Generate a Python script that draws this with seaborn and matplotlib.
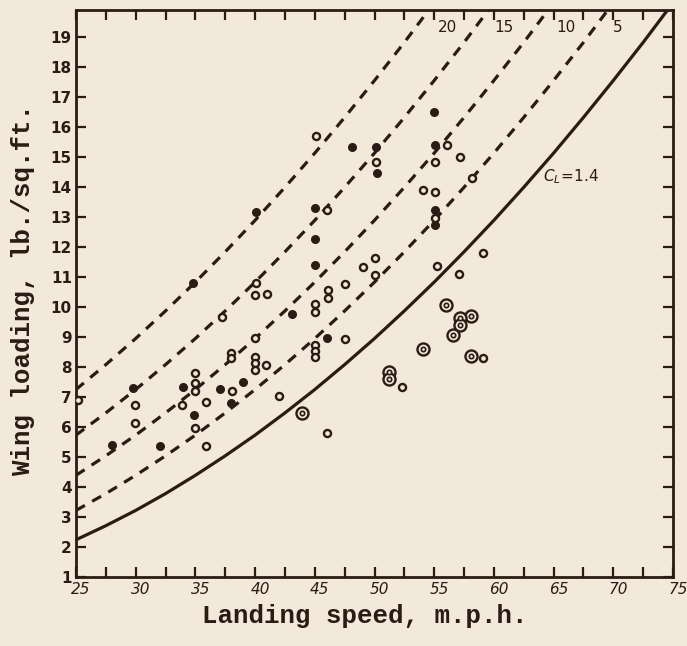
import numpy as np
import pandas as pd
import matplotlib
matplotlib.use("Agg")
import matplotlib.pyplot as plt
import matplotlib.transforms as mtransforms
import seaborn as sns

# ---------------- data ----------------
speed_grid = [25, 27.5, 30, 32.5, 35, 37.5, 40, 42.5, 45, 47.5, 50, 52.5,
              55, 57.5, 60, 62.5, 65, 67.5, 70, 72.5, 75]
# solid curve C_L = 1.4
cl14_vals = [2.24, 2.71, 3.22, 3.78, 4.39, 5.04, 5.73, 6.47, 7.25, 8.08, 8.95,
             9.87, 10.83, 11.84, 12.89, 13.99, 15.13, 16.32, 17.55, 18.82, 20.14]
# dashed curves labelled 5, 10, 15, 20
dash5_vals = [3.22, 3.78, 4.39, 5.04, 5.73, 6.47, 7.25, 8.08, 8.95, 9.87,
              10.83, 11.84, 12.89, 13.99, 15.13, 16.32, 17.55, 18.82, 20.14]
dash10_vals = [4.39, 5.04, 5.73, 6.47, 7.25, 8.08, 8.95, 9.87, 10.83, 11.84,
               12.89, 13.99, 15.13, 16.32, 17.55, 18.82, 20.14]
dash15_vals = [5.73, 6.47, 7.25, 8.08, 8.95, 9.87, 10.83, 11.84, 12.89, 13.99,
               15.13, 16.32, 17.55, 18.82, 20.14]
dash20_vals = [7.25, 8.08, 8.95, 9.87, 10.83, 11.84, 12.89, 13.99, 15.13,
               16.32, 17.55, 18.82, 20.14]
curve_labels = ["20", "15", "10", "5"]
curve_label_x = [55.3, 60.0, 65.2, 70.0]

# scatter points: filled dots
filled_speed = [28.0, 29.8, 32.0, 34.0, 34.9, 37.1, 39.0, 38.0, 34.8, 40.1,
                43.1, 45.0, 45.0, 45.0, 46.0, 48.1, 50.1, 50.2, 55.0, 55.1,
                55.1, 55.1]
filled_load = [5.40, 7.31, 5.38, 7.34, 6.40, 7.27, 7.51, 6.79, 10.79, 13.18,
               9.78, 13.29, 12.26, 11.40, 8.96, 15.34, 15.34, 14.48, 16.51,
               15.40, 13.23, 12.73]
# open circles
open_speed = [25.2, 29.9, 29.9, 35.0, 35.0, 35.0, 33.85, 35.9, 35.0, 35.9,
              38.1, 38.0, 38.0, 40.0, 40.0, 40.0, 40.0, 40.9, 42.0, 46.0,
              45.0, 45.0, 45.0, 47.5, 40.1, 40.0, 41.0, 37.25, 46.0, 47.5,
              46.1, 46.1, 45.0, 45.0, 45.1, 50.1, 50.0, 49.0, 50.0, 56.1,
              57.2, 55.1, 58.2, 54.1, 55.1, 55.1, 59.1, 55.2, 57.1, 59.1,
              52.3]
open_load = [6.90, 6.73, 6.14, 7.79, 7.46, 7.21, 6.73, 6.84, 5.96, 5.38,
             7.21, 8.46, 8.30, 8.98, 8.34, 8.13, 7.90, 8.07, 7.03, 5.79,
             8.73, 8.53, 8.34, 8.93, 10.79, 10.40, 10.43, 9.68, 13.23, 10.75,
             10.57, 10.29, 10.10, 9.85, 15.71, 14.84, 11.62, 11.32, 11.07,
             15.40, 14.99, 14.84, 14.29, 13.90, 13.84, 12.98, 11.81, 11.38,
             11.09, 8.31, 7.32]
# circled points
ring_speed = [43.9, 56.0, 58.1, 57.2, 57.2, 56.6, 54.1, 58.1, 51.2, 51.2]
ring_load = [6.46, 10.07, 9.70, 9.62, 9.40, 9.07, 8.59, 8.37, 7.84, 7.59]

x_ticks = [25, 30, 35, 40, 45, 50, 55, 60, 65, 70, 75]
y_ticks = list(range(1, 20))

# ---------------- style ----------------
BG = "#f3e9da"
INK = "#2a1c14"

sns.set_theme(style="ticks")
plt.rcParams["font.family"] = ["DejaVu Sans"]
plt.rcParams["mathtext.fontset"] = "dejavusans"

fig = plt.figure(figsize=(6.87, 6.46), dpi=100, facecolor=BG)
ax = fig.add_axes([76 / 687, 1 - 577 / 646, 597 / 687, 567 / 646])
ax.set_facecolor(BG)

solid_df = pd.DataFrame({"speed": speed_grid, "load": cl14_vals})
sns.lineplot(data=solid_df, x="speed", y="load", ax=ax, color=INK,
             linewidth=2.3, sort=False)
for vals in [dash5_vals, dash10_vals, dash15_vals, dash20_vals]:
    df = pd.DataFrame({"speed": speed_grid[:len(vals)], "load": vals})
    sns.lineplot(data=df, x="speed", y="load", ax=ax, color=INK,
                 linewidth=2.3, sort=False, dashes=False)
    ax.lines[-1].set_dashes([3.2, 2.6])

fdf = pd.DataFrame({"speed": filled_speed, "load": filled_load})
odf = pd.DataFrame({"speed": open_speed, "load": open_load})
rdf = pd.DataFrame({"speed": ring_speed, "load": ring_load})
sns.scatterplot(data=fdf, x="speed", y="load", ax=ax, s=30, color=INK,
                edgecolor=INK, linewidth=1.0, zorder=5)
sns.scatterplot(data=odf, x="speed", y="load", ax=ax, s=26, facecolor=BG,
                edgecolor=INK, linewidth=1.7, zorder=5)
sns.scatterplot(data=rdf, x="speed", y="load", ax=ax, s=75, facecolor=BG,
                edgecolor=INK, linewidth=1.7, zorder=5)
sns.scatterplot(data=rdf, x="speed", y="load", ax=ax, s=10, facecolor=BG,
                edgecolor=INK, linewidth=1.2, zorder=6)

for lab, xv in zip(curve_labels, curve_label_x):
    ax.text(xv, 19.3, lab, color=INK, fontsize=11, ha="left", va="center")
ax.text(64.1, 14.33, r"$C_L\!=\!1.4$", color=INK, fontsize=11,
        ha="left", va="center")

ax.set_xlim(25, 75)
ax.set_ylim(1, 19.9)
ax.set_xticks(x_ticks)
ax.set_xticks(np.arange(27.5, 75, 5), minor=True)
ax.set_xticklabels([str(t) for t in x_ticks], fontsize=11, style="italic",
                   color=INK)
ax.set_yticks(y_ticks)
ax.set_yticklabels([str(t) for t in y_ticks], fontsize=11, color=INK,
                   fontweight="bold")
ax.tick_params(which="both", direction="in", length=7, width=1.6,
               colors=INK, top=True, right=True, pad=3)
ax.tick_params(axis="x", which="both", pad=3)
# shift x tick labels a little to the right, as in the hand-lettered original
shift = mtransforms.ScaledTranslation(5 / 100, -1 / 100, fig.dpi_scale_trans)
for lbl in ax.get_xticklabels():
    lbl.set_transform(lbl.get_transform() + shift)
for sp in ax.spines.values():
    sp.set_visible(True)
    sp.set_color(INK)
    sp.set_linewidth(2.0)

ax.set_xlabel("")
ax.set_ylabel("")
fig.text(365 / 687, 1 - 616 / 646, "Landing speed, m.p.h.", ha="center",
         va="center", fontsize=18.5, fontweight="bold",
         family="Liberation Mono", color=INK)
fig.text(23 / 687, 1 - 290 / 646, "Wing loading, lb./sq.ft.", ha="center",
         va="center", rotation=90, fontsize=18.5, fontweight="bold",
         family="Liberation Mono", color=INK)

fig.savefig("out.png", dpi=100, facecolor=BG)
